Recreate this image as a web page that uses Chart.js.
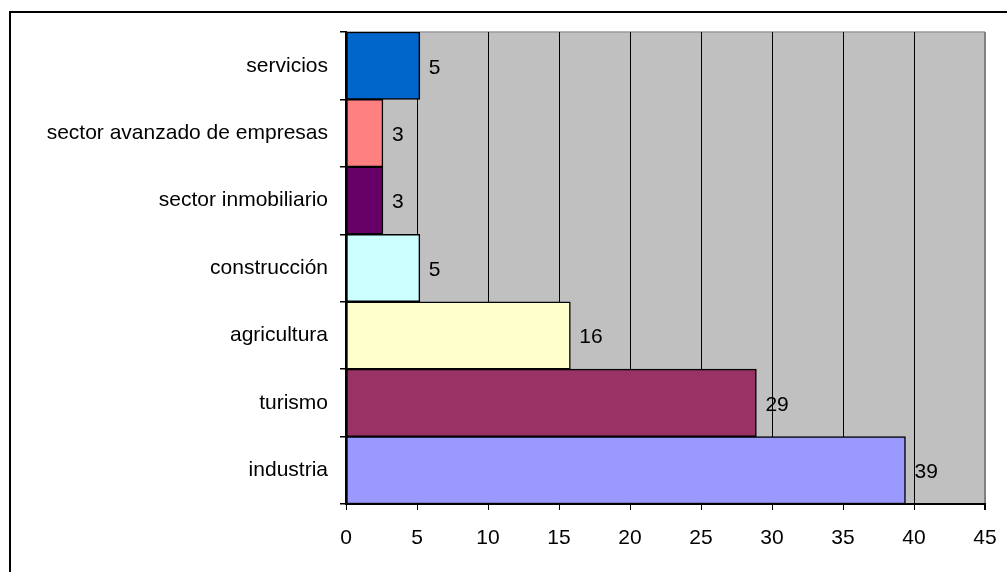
<!DOCTYPE html>
<html>
<head>
<meta charset="utf-8">
<script src="https://cdn.jsdelivr.net/npm/chart.js@4"></script>
<style>
  html, body { margin: 0; padding: 0; background: #fff; }
  #wrap { position: relative; width: 1007px; height: 572px; }
</style>
</head>
<body>
<div id="wrap"><canvas id="chart" width="1007" height="572"></canvas></div>
<script>
// sectores y porcentajes
const categories = ['servicios', 'sector avanzado de empresas', 'sector inmobiliario', 'construcción', 'agricultura', 'turismo', 'industria'];
const values = [5.2, 2.6, 2.6, 5.2, 15.8, 28.9, 39.4];
const barColors = ['#0066CC', '#FF8080', '#660066', '#CCFFFF', '#FFFFCC', '#993366', '#9999FF'];
const xTicks = [0, 5, 10, 15, 20, 25, 30, 35, 40, 45];

const FONT = '"Liberation Sans", Arial, sans-serif';

// fondo gris del area de trazado, marco exterior y etiquetas de valor
const plotDecor = {
  id: 'plotDecor',
  beforeDraw(chart) {
    const { ctx, chartArea: a } = chart;
    ctx.save();
    ctx.fillStyle = '#C0C0C0';
    ctx.fillRect(a.left, a.top, a.right - a.left, a.bottom - a.top);
    ctx.strokeStyle = '#9a9a9a';
    ctx.lineWidth = 1.5;
    ctx.beginPath();
    ctx.moveTo(a.left, a.top);
    ctx.lineTo(a.right, a.top);
    ctx.stroke();
    ctx.restore();
  },
  afterDatasetsDraw(chart) {
    const { ctx } = chart;
    const meta = chart.getDatasetMeta(0);
    ctx.save();
    ctx.fillStyle = '#000';
    ctx.font = '21px ' + FONT;
    ctx.textAlign = 'left';
    ctx.textBaseline = 'middle';
    meta.data.forEach((bar, i) => {
      ctx.fillText(String(Math.round(values[i])), bar.x + 9, bar.y + 2);
    });
    ctx.restore();
  },
  afterDraw(chart) {
    const { ctx } = chart;
    ctx.save();
    ctx.strokeStyle = '#000';
    ctx.lineWidth = 2;
    ctx.beginPath();
    ctx.moveTo(10, 600);
    ctx.lineTo(10, 12);
    ctx.lineTo(1010, 12);
    ctx.stroke();
    ctx.restore();
  }
};

new Chart(document.getElementById('chart').getContext('2d'), {
  type: 'bar',
  data: {
    labels: categories,
    datasets: [{
      data: values,
      backgroundColor: barColors,
      borderColor: '#000',
      borderWidth: 1.5,
      borderSkipped: false,
      barPercentage: 1,
      categoryPercentage: 1
    }]
  },
  options: {
    indexAxis: 'y',
    responsive: false,
    animation: false,
    devicePixelRatio: 1,
    layout: { padding: { top: 32, right: 22, left: 14, bottom: 0 } },
    plugins: { legend: { display: false }, tooltip: { enabled: false } },
    scales: {
      x: {
        min: 0,
        max: 45,
        afterBuildTicks: (s) => { s.ticks = xTicks.map(v => ({ value: v })); },
        afterFit: (s) => { s.height = 572 - 504; s.paddingLeft = 0; s.paddingRight = 0; },
        border: { display: true, color: '#000', width: 2 },
        grid: {
          color: (c) => (c.tick && c.tick.value === 45 ? '#808080' : '#000'),
          lineWidth: (c) => (c.tick && c.tick.value === 45 ? 2 : 1),
          tickColor: '#000',
          tickLength: 6,
          drawTicks: true
        },
        ticks: { color: '#000', font: { family: FONT, size: 21 }, padding: 16, maxRotation: 0 }
      },
      y: {
        afterFit: (s) => { s.width = 346 - 14; s.paddingTop = 0; s.paddingBottom = 0; },
        offset: true,
        border: { display: true, color: '#000', width: 2 },
        grid: {
          offset: true,
          drawOnChartArea: false,
          color: '#000',
          tickLength: 6,
          lineWidth: 1.5
        },
        ticks: { color: '#000', font: { family: FONT, size: 21 }, padding: 12 }
      }
    }
  },
  plugins: [plotDecor]
});
</script>
</body>
</html>
